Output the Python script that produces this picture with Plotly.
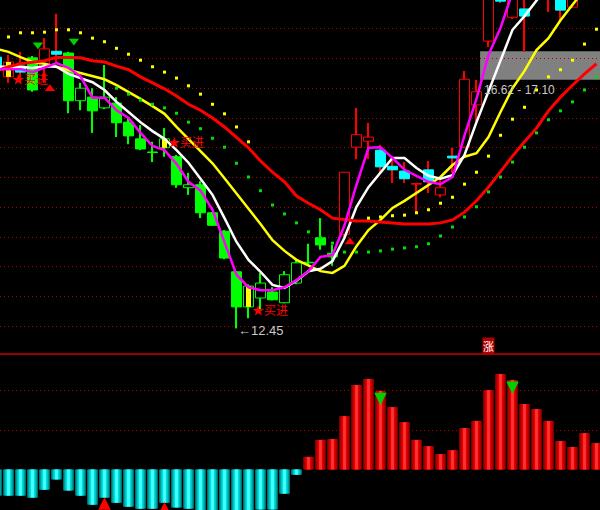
import plotly.graph_objects as go

# ---------------- data ----------------
bars = list(range(-1, 50))  # bar index, left to right

open_ = [17.00, 16.67, 16.85, 16.99, 16.84, 17.10, 17.07, 16.27, 16.33, 16.15,
         16.23, 15.91, 15.63, 15.41, 15.48, 15.33, 14.81, 14.86, 14.39, 14.08,
         13.40, 12.81, 12.96, 13.06, 12.88, 13.21, 13.56, 13.97, 13.71, 14.03,
         15.49, 15.59, 15.44, 15.17, 15.09, 14.87, 15.11, 14.69, 15.34, 15.49,
         16.20, 17.27, 18.21, 17.67, 17.81, 18.30, 17.99, 18.21, 17.84, 18.21, 18.72]
high = [17.09, 17.04, 17.09, 17.02, 17.32, 17.73, 17.09, 16.57, 16.48, 16.87,
        16.33, 16.00, 15.86, 15.58, 15.81, 15.36, 15.06, 14.92, 14.40, 14.10,
        13.41, 13.19, 13.38, 13.14, 13.41, 13.60, 13.87, 14.30, 13.85, 15.07,
        16.15, 15.90, 15.53, 15.28, 15.24, 14.89, 15.26, 14.94, 15.48, 16.77,
        16.62, 18.38, 18.46, 18.30, 18.13, 18.46, 18.72, 18.38, 18.63, 18.97, 18.88]
low = [16.75, 16.57, 16.57, 16.42, 16.57, 16.92, 16.06, 16.11, 15.73, 16.13,
       15.66, 15.54, 15.44, 15.24, 15.33, 14.81, 14.69, 14.30, 14.17, 13.61,
       12.45, 12.62, 12.76, 12.92, 12.87, 13.19, 13.51, 13.77, 13.50, 13.97,
       15.29, 15.29, 15.06, 14.89, 14.89, 14.39, 14.72, 14.65, 15.06, 15.48,
       15.93, 17.17, 17.91, 17.64, 17.09, 18.03, 17.76, 17.62, 17.83, 18.16, 18.21]
close = [16.84, 16.92, 16.75, 16.45, 17.14, 17.05, 16.27, 16.48, 16.10, 16.33,
         15.90, 15.68, 15.46, 15.40, 15.63, 14.86, 14.86, 14.39, 14.18, 13.63,
         12.81, 13.16, 13.21, 12.93, 13.35, 13.55, 13.55, 13.85, 13.65, 15.07,
         15.70, 15.66, 15.16, 15.11, 14.96, 14.88, 14.91, 14.81, 15.31, 16.63,
         16.42, 18.30, 17.94, 18.13, 17.69, 18.09, 18.63, 17.79, 18.46, 18.80, 18.30]
trend = ["bull", "bull", "bull", "bear", "bull", "bull", "bear", "bear", "bear", "bear",
         "bear", "bear", "bear", "bear", "bear", "bear", "bear", "bear", "bear", "bear",
         "bear", "bear", "bear", "bear", "bear", "bear", "bear", "bear", "bear", "bull",
         "bull", "bull", "bull", "bull", "bull", "bull", "bull", "bull", "bull", "bull",
         "bull", "bull", "bull", "bull", "bull", "bull", "bull", "bull", "bull", "bull", "bull"]

ma_yellow = [17.14, 17.09, 17.00, 16.92, 16.89, 16.84, 16.79, 16.74, 16.68, 16.63,
             16.53, 16.42, 16.30, 16.18, 16.05, 15.83, 15.63, 15.43, 15.22, 14.97,
             14.72, 14.45, 14.20, 13.93, 13.75, 13.60, 13.50, 13.41, 13.38, 13.50,
             13.83, 14.10, 14.27, 14.47, 14.59, 14.72, 14.86, 14.99, 15.19, 15.33,
             15.39, 15.66, 16.08, 16.48, 16.77, 17.12, 17.32, 17.62, 17.88, 18.13, 18.38]
ma_white = [16.84, 16.84, 16.84, 16.82, 16.85, 16.84, 16.72, 16.65, 16.58, 16.45,
            16.25, 16.08, 15.91, 15.76, 15.63, 15.44, 15.23, 14.96, 14.69, 14.30,
            13.90, 13.60, 13.40, 13.18, 13.13, 13.25, 13.41, 13.45, 13.58, 13.97,
            14.49, 14.82, 15.07, 15.31, 15.31, 15.14, 15.01, 14.96, 15.02, 15.36,
            15.91, 16.42, 16.95, 17.46, 17.69, 17.96, 18.21, 18.46, 18.72, 18.97, 19.22]
ma_magenta = [16.80, 16.80, 16.80, 16.75, 16.82, 16.90, 16.82, 16.68, 16.32, 16.32,
              16.11, 15.98, 15.73, 15.51, 15.44, 15.21, 14.91, 14.76, 14.44, 13.88,
              13.35, 13.14, 13.09, 13.09, 13.14, 13.26, 13.41, 13.65, 13.68, 14.18,
              14.86, 15.48, 15.49, 15.31, 15.11, 15.01, 14.91, 14.87, 14.99, 15.69,
              16.30, 17.04, 17.49, 18.09, 18.46, 18.80, 19.05, 19.30, 19.47, 19.64, 19.81]
ma_red = [16.77, 16.84, 16.89, 16.92, 16.94, 17.00, 17.00, 16.99, 16.94, 16.92,
          16.85, 16.79, 16.67, 16.57, 16.47, 16.35, 16.21, 16.11, 15.98, 15.83,
          15.66, 15.48, 15.26, 15.07, 14.91, 14.67, 14.55, 14.44, 14.30, 14.27,
          14.25, 14.25, 14.23, 14.22, 14.20, 14.20, 14.20, 14.22, 14.27, 14.40,
          14.59, 14.82, 15.09, 15.34, 15.58, 15.81, 16.10, 16.33, 16.53, 16.72, 16.89]

dots_upper = [None, 17.34, 17.41, 17.41, 17.42, 17.46, 17.46, 17.41, 17.32, 17.26,
              17.15, 17.05, 16.95, 16.84, 16.75, 16.65, 16.52, 16.38, 16.21, 16.05,
              15.83, 15.58, None, None, None, None, None, None, None, None,
              None, 14.30, 14.32, 14.34, 14.35, 14.39, 14.44, 14.55, 14.65, 14.87,
              15.07, 15.34, 15.69, 15.96, 16.16, 16.45, 16.67, 16.79, 16.95, 17.22, 17.47]
dots_lower = [None, None, None, None, None, None, None, None, None, None,
              16.48, 16.38, 16.28, 16.21, 16.15, 16.06, 15.91, 15.80, 15.64, 15.49,
              15.22, 14.99, 14.76, 14.52, 14.37, 14.22, 14.07, 13.97, 13.88, 13.73,
              13.73, 13.73, 13.75, 13.78, 13.80, 13.82, 13.87, 14.00, 14.15, 14.32,
              14.49, 14.74, 14.99, 15.24, 15.49, 15.73, 15.95, 16.10, 16.25, 16.45, 16.67]

osc = [-0.66, -0.66, -0.66, -0.71, -0.51, -0.25, -0.53, -0.66, -0.89, -0.71,
       -0.84, -0.94, -0.99, -0.99, -0.84, -0.96, -0.99, -1.09, -1.14, -1.14,
       -1.11, -1.04, -1.01, -1.01, -0.61, -0.13, 0.32, 0.75, 0.77, 1.35,
       2.14, 2.29, 1.99, 1.58, 1.20, 0.75, 0.59, 0.39, 0.49, 1.05,
       1.23, 2.01, 2.42, 2.27, 1.66, 1.53, 1.23, 0.72, 0.57, 0.92, 0.67]

buy_bars = [0, 13, 20]
buy_label_price = [16.65, 15.58, 12.76]
sell_tri_x = [2.45, 5.45]
sell_tri_price = [17.21, 17.27]
buy_tri_x = [3.45, 28.45]
buy_tri_price = [16.47, 13.90]
osc_up_arrow_bars = [8, 13]
osc_up_arrow_tip = [-0.70, -0.82]
osc_down_arrow_bars = [31, 42]
osc_down_arrow_tip = [1.63, 1.91]
grid_prices = [12.48, 12.98, 13.48, 13.98, 14.48, 14.98, 15.48, 15.98, 16.48, 16.98, 17.48]
osc_grid = [1.0, 2.0]
band_low, band_high, band_start = 16.62, 17.10, 39.3
band_text = "16.62 - 17.10"
band_text_pos = (39.46, 16.45)
low_bar, low_text, low_text_price = 19, "←12.45", 12.42
rise_bar, rise_price = 40, 12.15

# ---------------- figure ----------------
fig = go.Figure()

STYLE = {
    "red": ("#000000", "#ff0000", "#ff0000"),
    "cyan": ("#00ffff", "#00ffff", "#ff0000"),
    "green_hollow": ("#000000", "#00ff00", "#00ff00"),
    "green": ("#00ff00", "#00ff00", "#00ff00"),
}


def kind(i):
    up = close[i] >= open_[i]
    if trend[i] == "bull":
        return "red" if up else "cyan"
    return "green_hollow" if up else "green"


kinds = [kind(i) for i in range(len(bars))]

# wicks (as thin bars so bodies can cover them)
for wcol in ["#ff0000", "#00ff00"]:
    idx = [i for i in range(len(bars)) if STYLE[kinds[i]][2] == wcol]
    fig.add_trace(go.Bar(
        x=[bars[i] for i in idx], base=[low[i] for i in idx],
        y=[high[i] - low[i] for i in idx], width=0.09,
        marker=dict(color=wcol, line=dict(width=0)), hoverinfo="skip"))

# bodies
for k, (fill, edge, _) in STYLE.items():
    idx = [i for i in range(len(bars)) if kinds[i] == k]
    fig.add_trace(go.Bar(
        x=[bars[i] for i in idx],
        base=[min(open_[i], close[i]) for i in idx],
        y=[max(abs(close[i] - open_[i]), 0.01) for i in idx], width=0.83,
        marker=dict(color=fill, line=dict(color=edge, width=1)), hoverinfo="skip"))

# yellow buy-signal candles
bi = [bars.index(b) for b in buy_bars]
fig.add_trace(go.Bar(
    x=buy_bars, base=[min(open_[i], close[i]) for i in bi],
    y=[abs(close[i] - open_[i]) for i in bi], width=0.42,
    marker=dict(color="#ffff00", line=dict(width=0)), hoverinfo="skip"))

# oscillator bars with cylinder shading
neg = [v if v < 0 else None for v in osc]
pos = [v if v >= 0 else None for v in osc]
for w, c in [(0.92, "#006e6e"), (0.72, "#00a8a8"), (0.50, "#00dcdc"), (0.24, "#40ffff")]:
    fig.add_trace(go.Bar(x=bars, y=neg, width=w, yaxis="y2",
                         marker=dict(color=c, line=dict(width=0)), hoverinfo="skip"))
for w, c in [(0.92, "#7a0000"), (0.72, "#b00000"), (0.50, "#e00000"), (0.24, "#ff3030")]:
    fig.add_trace(go.Bar(x=bars, y=pos, width=w, yaxis="y2",
                         marker=dict(color=c, line=dict(width=0)), hoverinfo="skip"))

# moving averages
for ys, col, lw in [(ma_yellow, "#ffff00", 2.5), (ma_white, "#ffffff", 2.5),
                    (ma_red, "#ff0000", 3), (ma_magenta, "#ff00ff", 2.5)]:
    fig.add_trace(go.Scatter(x=bars, y=ys, mode="lines",
                             line=dict(color=col, width=lw), hoverinfo="skip"))

# dotted guide points
fig.add_trace(go.Scatter(x=bars, y=dots_upper, mode="markers",
                         marker=dict(symbol="square", size=3, color="#ffff00", line=dict(width=0)),
                         hoverinfo="skip"))
fig.add_trace(go.Scatter(x=bars, y=dots_lower, mode="markers",
                         marker=dict(symbol="square", size=3, color="#00e000", line=dict(width=0)),
                         hoverinfo="skip"))

# signal triangles
fig.add_trace(go.Scatter(x=sell_tri_x, y=sell_tri_price, mode="markers",
                         marker=dict(symbol="triangle-down", size=9, color="#00d000", line=dict(width=0)),
                         hoverinfo="skip"))
fig.add_trace(go.Scatter(x=buy_tri_x, y=buy_tri_price, mode="markers",
                         marker=dict(symbol="triangle-up", size=9, color="#ff0000", line=dict(width=0)),
                         hoverinfo="skip"))

annotations = []
for b, p in zip(buy_bars, buy_label_price):
    annotations.append(dict(x=b + 0.15, y=p, xref="x", yref="y", text="★买进", showarrow=False,
                            xanchor="left", yanchor="middle",
                            font=dict(family="Noto Sans CJK SC", size=12, color="#ff0000")))
annotations.append(dict(x=band_text_pos[0], y=band_text_pos[1], xref="x", yref="y", text=band_text,
                        showarrow=False, xanchor="left", yanchor="middle",
                        font=dict(family="Liberation Sans", size=12, color="#c8c8c8")))
annotations.append(dict(x=low_bar - 0.04, y=low_text_price, xref="x", yref="y", text=low_text,
                        showarrow=False, xanchor="left", yanchor="middle",
                        font=dict(family="Liberation Sans", size=13, color="#c8c8c8")))
annotations.append(dict(x=rise_bar, y=rise_price, xref="x", yref="y", text="涨", showarrow=False,
                        xanchor="center", yanchor="middle", bgcolor="#b00000", borderpad=0,
                        font=dict(family="Noto Sans CJK SC", size=11, color="#ffffff")))
for b, t in zip(osc_up_arrow_bars, osc_up_arrow_tip):
    annotations.append(dict(x=b, y=t, xref="x", yref="y2", text="", showarrow=True,
                            ax=0, ay=16, arrowhead=2, arrowsize=1, arrowwidth=2.5,
                            arrowcolor="#ff0000", standoff=0))
for b, t in zip(osc_down_arrow_bars, osc_down_arrow_tip):
    annotations.append(dict(x=b, y=t, xref="x", yref="y2", text="", showarrow=True,
                            ax=0, ay=-13, arrowhead=2, arrowsize=1, arrowwidth=2.5,
                            arrowcolor="#00d000", standoff=0))

shapes = [
    dict(type="rect", xref="x", yref="y", x0=band_start, x1=49.6, y0=band_low, y1=band_high,
         fillcolor="#808080", line=dict(width=0), layer="below"),
    dict(type="line", xref="paper", yref="paper", x0=0, x1=1, y0=0.3059, y1=0.3059,
         line=dict(color="#c80000", width=1.5)),
]

GRID = "#b00000"
fig.update_layout(
    template="none",
    width=600, height=510, margin=dict(l=0, r=0, t=0, b=0),
    paper_bgcolor="#000000", plot_bgcolor="#000000",
    showlegend=False, barmode="overlay",
    xaxis=dict(range=[-0.708, 49.292], visible=False, anchor="y2", fixedrange=True),
    yaxis=dict(domain=[0.3059, 1], range=[12.02, 17.96], tickmode="array", tickvals=grid_prices,
               showticklabels=False, ticks="", showgrid=True, gridcolor=GRID, griddash="1px,3px",
               gridwidth=1, zeroline=False, showline=False, fixedrange=True),
    yaxis2=dict(domain=[0, 0.3039], range=[-1.025, 2.90], tickmode="array", tickvals=osc_grid,
                showticklabels=False, ticks="", showgrid=True, gridcolor=GRID, griddash="1px,3px",
                gridwidth=1, zeroline=False, showline=False, fixedrange=True),
    annotations=annotations,
    shapes=shapes,
)

fig.write_html("out.html", config={"displayModeBar": False},
               post_script="document.body.style.margin='0';document.body.style.overflow='hidden';document.body.style.background='#000';")
